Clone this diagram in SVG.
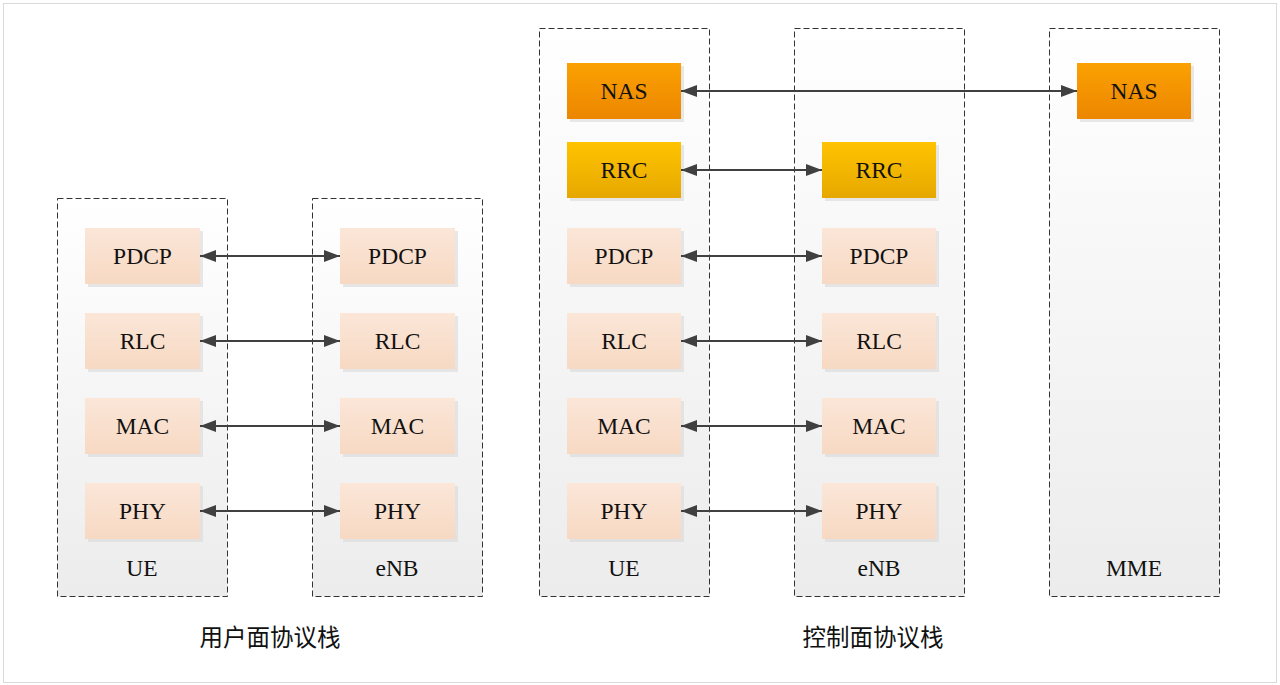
<svg xmlns="http://www.w3.org/2000/svg" width="1280" height="685" viewBox="0 0 1280 685">
<defs>
<linearGradient id="gCont" x1="0" y1="0" x2="0" y2="1"><stop offset="0" stop-color="#ffffff"/><stop offset="1" stop-color="#ececec"/></linearGradient>
<linearGradient id="gPeach" x1="0" y1="0" x2="0" y2="1"><stop offset="0" stop-color="#fbe6d8"/><stop offset="1" stop-color="#f7d9c3"/></linearGradient>
<linearGradient id="gNas" x1="0" y1="0" x2="0" y2="1"><stop offset="0" stop-color="#fba102"/><stop offset="1" stop-color="#ec8600"/></linearGradient>
<linearGradient id="gRrc" x1="0" y1="0" x2="0" y2="1"><stop offset="0" stop-color="#ffc300"/><stop offset="1" stop-color="#e6a800"/></linearGradient>
<marker id="ah" viewBox="0 0 16 12" refX="16" refY="6" markerWidth="16" markerHeight="12" markerUnits="userSpaceOnUse" orient="auto-start-reverse"><path d="M0,0 L16,6 L0,12 Z" fill="#404040"/></marker>
</defs>
<style>
.cont{fill:url(#gCont);stroke:#333333;stroke-width:1;stroke-dasharray:6,3}
.shadow{fill:#d8d8d8;opacity:0.6}
.peach{fill:url(#gPeach)}
.nas{fill:url(#gNas)}
.rrc{fill:url(#gRrc)}
.t{font-family:"Liberation Serif",serif;font-size:23.5px;fill:#111;text-anchor:middle}
.cap{font-family:"Liberation Serif",serif;font-size:23.5px;fill:#111;text-anchor:middle}
.lbl{font-family:"Noto Sans CJK SC",sans-serif;font-size:23.5px;fill:#111;text-anchor:middle}
.conn line{stroke:#404040;stroke-width:2;marker-start:url(#ah);marker-end:url(#ah)}
</style>
<rect x="3.5" y="3.5" width="1273" height="679" fill="#ffffff" stroke="#d9d9d9" stroke-width="1"/>

<g id="cont-ue-u"><rect class="cont" x="57.5" y="198.5" width="170" height="398"/><text class="cap" x="142" y="576">UE</text></g>
<g id="cont-enb-u"><rect class="cont" x="312.5" y="198.5" width="170" height="398"/><text class="cap" x="397" y="576">eNB</text></g>
<g id="cont-ue-c"><rect class="cont" x="539.5" y="28.5" width="170" height="568"/><text class="cap" x="624" y="576">UE</text></g>
<g id="cont-enb-c"><rect class="cont" x="794.5" y="28.5" width="170" height="568"/><text class="cap" x="879" y="576">eNB</text></g>
<g id="cont-mme"><rect class="cont" x="1049.5" y="28.5" width="170" height="568"/><text class="cap" x="1134" y="576">MME</text></g>

<!-- user plane UE -->
<g id="u-ue-pdcp"><rect class="shadow" x="88" y="231" width="115" height="56"/><rect class="peach" x="85" y="228" width="115" height="56"/><text class="t" x="142.5" y="264">PDCP</text></g>
<g id="u-ue-rlc"><rect class="shadow" x="88" y="316" width="115" height="56"/><rect class="peach" x="85" y="313" width="115" height="56"/><text class="t" x="142.5" y="349">RLC</text></g>
<g id="u-ue-mac"><rect class="shadow" x="88" y="401" width="115" height="56"/><rect class="peach" x="85" y="398" width="115" height="56"/><text class="t" x="142.5" y="434">MAC</text></g>
<g id="u-ue-phy"><rect class="shadow" x="88" y="486" width="115" height="56"/><rect class="peach" x="85" y="483" width="115" height="56"/><text class="t" x="142.5" y="519">PHY</text></g>
<!-- user plane eNB -->
<g id="u-enb-pdcp"><rect class="shadow" x="343" y="231" width="115" height="56"/><rect class="peach" x="340" y="228" width="115" height="56"/><text class="t" x="397.5" y="264">PDCP</text></g>
<g id="u-enb-rlc"><rect class="shadow" x="343" y="316" width="115" height="56"/><rect class="peach" x="340" y="313" width="115" height="56"/><text class="t" x="397.5" y="349">RLC</text></g>
<g id="u-enb-mac"><rect class="shadow" x="343" y="401" width="115" height="56"/><rect class="peach" x="340" y="398" width="115" height="56"/><text class="t" x="397.5" y="434">MAC</text></g>
<g id="u-enb-phy"><rect class="shadow" x="343" y="486" width="115" height="56"/><rect class="peach" x="340" y="483" width="115" height="56"/><text class="t" x="397.5" y="519">PHY</text></g>

<!-- control plane UE -->
<g id="c-ue-nas"><rect class="shadow" x="570" y="66" width="114" height="56"/><rect class="nas" x="567" y="63" width="114" height="56"/><text class="t" x="624" y="99">NAS</text></g>
<g id="c-ue-rrc"><rect class="shadow" x="570" y="145" width="114" height="56"/><rect class="rrc" x="567" y="142" width="114" height="56"/><text class="t" x="624" y="178">RRC</text></g>
<g id="c-ue-pdcp"><rect class="shadow" x="570" y="231" width="114" height="56"/><rect class="peach" x="567" y="228" width="114" height="56"/><text class="t" x="624" y="264">PDCP</text></g>
<g id="c-ue-rlc"><rect class="shadow" x="570" y="316" width="114" height="56"/><rect class="peach" x="567" y="313" width="114" height="56"/><text class="t" x="624" y="349">RLC</text></g>
<g id="c-ue-mac"><rect class="shadow" x="570" y="401" width="114" height="56"/><rect class="peach" x="567" y="398" width="114" height="56"/><text class="t" x="624" y="434">MAC</text></g>
<g id="c-ue-phy"><rect class="shadow" x="570" y="486" width="114" height="56"/><rect class="peach" x="567" y="483" width="114" height="56"/><text class="t" x="624" y="519">PHY</text></g>
<!-- control plane eNB -->
<g id="c-enb-rrc"><rect class="shadow" x="825" y="145" width="114" height="56"/><rect class="rrc" x="822" y="142" width="114" height="56"/><text class="t" x="879" y="178">RRC</text></g>
<g id="c-enb-pdcp"><rect class="shadow" x="825" y="231" width="114" height="56"/><rect class="peach" x="822" y="228" width="114" height="56"/><text class="t" x="879" y="264">PDCP</text></g>
<g id="c-enb-rlc"><rect class="shadow" x="825" y="316" width="114" height="56"/><rect class="peach" x="822" y="313" width="114" height="56"/><text class="t" x="879" y="349">RLC</text></g>
<g id="c-enb-mac"><rect class="shadow" x="825" y="401" width="114" height="56"/><rect class="peach" x="822" y="398" width="114" height="56"/><text class="t" x="879" y="434">MAC</text></g>
<g id="c-enb-phy"><rect class="shadow" x="825" y="486" width="114" height="56"/><rect class="peach" x="822" y="483" width="114" height="56"/><text class="t" x="879" y="519">PHY</text></g>
<!-- MME -->
<g id="c-mme-nas"><rect class="shadow" x="1080" y="66" width="114" height="56"/><rect class="nas" x="1077" y="63" width="114" height="56"/><text class="t" x="1134" y="99">NAS</text></g>

<g id="connectors" class="conn">
<line x1="200" y1="256" x2="340" y2="256"/>
<line x1="200" y1="341" x2="340" y2="341"/>
<line x1="200" y1="426" x2="340" y2="426"/>
<line x1="200" y1="511" x2="340" y2="511"/>
<line x1="681" y1="91" x2="1077" y2="91"/>
<line x1="681" y1="170" x2="822" y2="170"/>
<line x1="681" y1="256" x2="822" y2="256"/>
<line x1="681" y1="341" x2="822" y2="341"/>
<line x1="681" y1="426" x2="822" y2="426"/>
<line x1="681" y1="511" x2="822" y2="511"/>
</g>

<text class="lbl" x="270" y="646">用户面协议栈</text>
<text class="lbl" x="873" y="646">控制面协议栈</text>
</svg>
